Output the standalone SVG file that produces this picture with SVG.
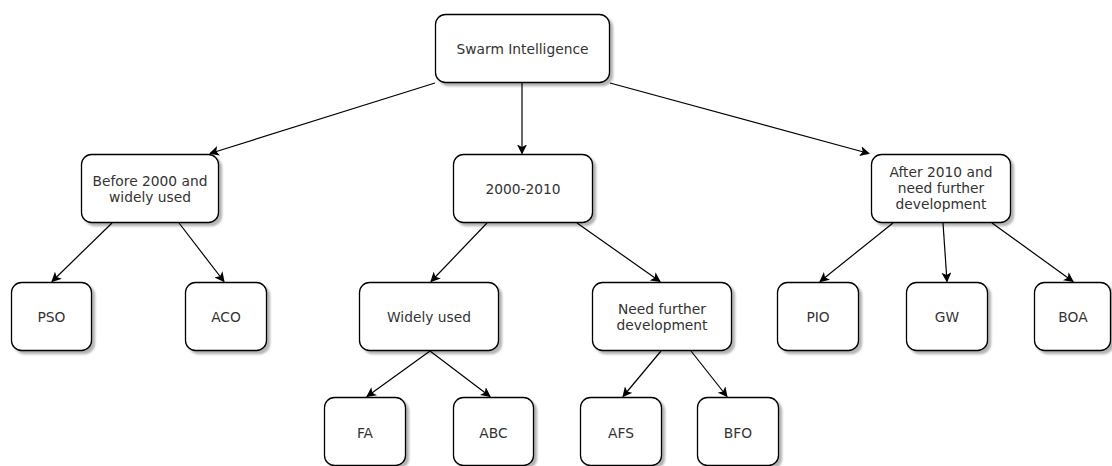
<svg xmlns="http://www.w3.org/2000/svg" width="1112" height="466" viewBox="0 0 1112 466">
<defs>
<filter id="sh" x="-10%" y="-10%" width="130%" height="130%">
<feGaussianBlur in="SourceAlpha" stdDeviation="1.2"/>
<feOffset dx="2.5" dy="2.5" result="o"/>
<feComponentTransfer><feFuncA type="linear" slope="0.3"/></feComponentTransfer>
<feMerge><feMergeNode/><feMergeNode in="SourceGraphic"/></feMerge>
</filter>
<marker id="ar" viewBox="0 0 10 10" refX="9" refY="5" markerWidth="10" markerHeight="10" markerUnits="userSpaceOnUse" orient="auto">
<path d="M0,0 L10,5 L0,10 L2.5,5 Z" fill="#000"/>
</marker>
</defs>
<style>
rect{fill:#fff;stroke:#000;stroke-width:1.3;filter:url(#sh)}
text{font-family:"DejaVu Sans",Verdana,sans-serif;font-size:13.8px;fill:#333;text-anchor:middle}
#edges line{stroke:#000;stroke-width:1.2;marker-end:url(#ar)}
</style>
<rect x="0" y="0" width="1112" height="466" style="fill:#fff;stroke:none;filter:none"/>
<g id="edges">
<line x1="435" y1="83" x2="210" y2="153.5"/>
<line x1="522" y1="83" x2="522" y2="153.5"/>
<line x1="610" y1="83" x2="869" y2="153.5"/>
<line x1="112" y1="223" x2="52" y2="281.5"/>
<line x1="179" y1="223" x2="224" y2="281.5"/>
<line x1="487" y1="223" x2="431" y2="281.5"/>
<line x1="577" y1="223" x2="660" y2="281.5"/>
<line x1="893" y1="223" x2="820" y2="281.5"/>
<line x1="943" y1="223" x2="947" y2="281.5"/>
<line x1="992" y1="223" x2="1073" y2="281.5"/>
<line x1="430" y1="351" x2="367" y2="396.5"/>
<line x1="430" y1="351" x2="490" y2="396.5"/>
<line x1="661" y1="351" x2="623" y2="396.5"/>
<line x1="691" y1="351" x2="727" y2="396.5"/>
</g>
<g id="root"><rect x="435.5" y="14.5" width="174" height="68" rx="10"/><text x="522.5" y="54">Swarm Intelligence</text></g>
<g id="before2000"><rect x="81.5" y="154.5" width="137" height="68" rx="10"/><text x="150" y="186">Before 2000 and</text><text x="150" y="202">widely used</text></g>
<g id="y2000_2010"><rect x="453.5" y="154.5" width="139" height="68" rx="10"/><text x="523" y="194">2000-2010</text></g>
<g id="after2010"><rect x="871.5" y="154.5" width="139" height="68" rx="10"/><text x="941" y="177">After 2010 and</text><text x="941" y="193">need further</text><text x="941" y="209">development</text></g>
<g id="pso"><rect x="11.5" y="282.5" width="80" height="68" rx="10"/><text x="51.5" y="322">PSO</text></g>
<g id="aco"><rect x="185.5" y="282.5" width="81" height="68" rx="10"/><text x="226" y="322">ACO</text></g>
<g id="widely"><rect x="359.5" y="282.5" width="139" height="68" rx="10"/><text x="429" y="322">Widely used</text></g>
<g id="needfurther"><rect x="592.5" y="282.5" width="139" height="68" rx="10"/><text x="662" y="314">Need further</text><text x="662" y="330">development</text></g>
<g id="pio"><rect x="777.5" y="282.5" width="81" height="68" rx="10"/><text x="818" y="322">PIO</text></g>
<g id="gw"><rect x="906.5" y="282.5" width="81" height="68" rx="10"/><text x="947" y="322">GW</text></g>
<g id="boa"><rect x="1034.5" y="282.5" width="76" height="68" rx="10"/><text x="1073" y="322">BOA</text></g>
<g id="fa"><rect x="324.5" y="397.5" width="81" height="68" rx="10"/><text x="365" y="438">FA</text></g>
<g id="abc"><rect x="453.5" y="397.5" width="80" height="68" rx="10"/><text x="493.5" y="438">ABC</text></g>
<g id="afs"><rect x="580.5" y="397.5" width="81" height="68" rx="10"/><text x="621" y="438">AFS</text></g>
<g id="bfo"><rect x="697.5" y="397.5" width="81" height="68" rx="10"/><text x="738" y="438">BFO</text></g>
</svg>
